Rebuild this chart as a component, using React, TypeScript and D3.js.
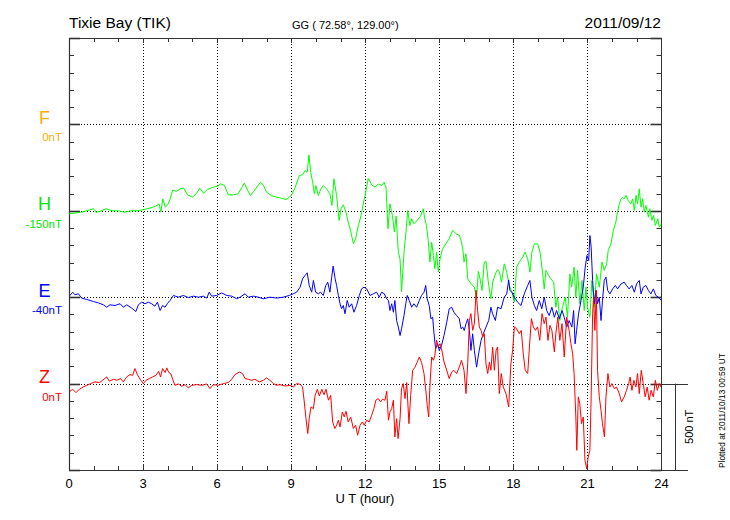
import React from 'react';
import * as d3 from 'd3';

type P = [number, number];

const hourTicks = [0, 3, 6, 9, 12, 15, 18, 21, 24];
const compNames = ['F', 'H', 'E', 'Z'];
const compBase = ['0nT', '-150nT', '-40nT', '0nT'];
const compColors = ['#f5b000', '#00e600', '#0000ff', '#ff0000'];
const lineColors = ['#f5b000', '#00ff00', '#0000ff', '#ff0000'];

const H_DATA: P[] = [[0,-17],[0.25,-13],[0.5,-8],[0.75,2],[1,12],[1.1,-8],[1.25,-4],[1.5,12],[1.75,0],[2,0],[2.25,-8],[2.5,0],[2.75,0],[3,6],[3.25,15],[3.5,25],[3.65,40],[3.72,-8],[3.8,69],[3.9,21],[4.0,35],[4.1,69],[4.2,121],[4.35,112],[4.5,127],[4.65,131],[4.8,92],[5.0,79],[5.15,98],[5.3,131],[5.45,102],[5.6,123],[5.8,135],[6.0,142],[6.15,156],[6.3,146],[6.45,92],[6.65,92],[6.85,98],[7.0,135],[7.1,160],[7.25,115],[7.35,88],[7.5,115],[7.75,165],[7.87,150],[8.0,108],[8.2,88],[8.4,79],[8.6,73],[8.8,65],[9.0,88],[9.15,131],[9.33,204],[9.46,208],[9.56,233],[9.65,223],[9.72,323],[9.79,223],[9.87,165],[9.94,98],[10.0,146],[10.1,88],[10.2,127],[10.3,146],[10.43,127],[10.57,98],[10.65,31],[10.73,185],[10.84,88],[10.94,-56],[11.02,12],[11.11,35],[11.22,-8],[11.31,-65],[11.41,-119],[11.52,-190],[11.61,-162],[11.72,-85],[11.83,-27],[11.92,40],[12.03,117],[12.12,188],[12.26,150],[12.4,137],[12.53,156],[12.66,146],[12.76,165],[12.84,137],[12.92,-104],[13.0,40],[13.1,-27],[13.18,-123],[13.25,-31],[13.34,-240],[13.41,-279],[13.47,-469],[13.57,-240],[13.65,-123],[13.72,2],[13.81,-85],[13.88,-46],[13.97,-75],[14.1,-56],[14.24,-31],[14.35,12],[14.41,-46],[14.48,-85],[14.55,-171],[14.62,-296],[14.69,-181],[14.76,-258],[14.82,-335],[14.89,-240],[14.96,-354],[15.03,-277],[15.13,-219],[15.27,-190],[15.4,-162],[15.54,-113],[15.67,-133],[15.81,-142],[15.9,-181],[15.96,-230],[16.0,-297],[16.08,-249],[16.15,-394],[16.28,-422],[16.42,-442],[16.51,-509],[16.58,-351],[16.65,-394],[16.73,-461],[16.82,-297],[16.89,-293],[17.0,-432],[17.09,-509],[17.16,-413],[17.27,-365],[17.36,-341],[17.43,-351],[17.52,-413],[17.63,-307],[17.73,-355],[17.83,-432],[17.94,-470],[18.04,-528],[18.13,-326],[18.24,-297],[18.38,-268],[18.47,-239],[18.58,-278],[18.67,-355],[18.75,-239],[18.85,-191],[18.98,-191],[19.08,-239],[19.18,-355],[19.25,-452],[19.32,-345],[19.43,-374],[19.52,-394],[19.63,-413],[19.72,-558],[19.79,-500],[19.88,-635],[19.99,-558],[20.1,-500],[20.19,-616],[20.29,-365],[20.36,-442],[20.46,-326],[20.53,-500],[20.6,-345],[20.69,-538],[20.78,-403],[20.87,-577],[20.94,-442],[21.0,-558],[21.1,-616],[21.18,-403],[21.28,-558],[21.37,-365],[21.48,-442],[21.59,-297],[21.68,-345],[21.78,-307],[21.84,-230],[21.95,-191],[22.05,-114],[22.15,-66],[22.22,-8],[22.29,40],[22.36,69],[22.42,79],[22.49,69],[22.56,89],[22.65,60],[22.76,40],[22.83,69],[22.9,2],[22.97,89],[23.03,40],[23.1,127],[23.17,21],[23.24,69],[23.3,-8],[23.37,31],[23.47,-37],[23.53,12],[23.61,-56],[23.68,-27],[23.75,-85],[23.85,-46],[23.91,-95],[24.0,-75]];

const E_DATA: P[] = [[0.04,10],[0.15,29],[0.24,14],[0.38,20],[0.51,-5],[0.72,-13],[0.99,-25],[1.19,-33],[1.39,-44],[1.53,-58],[1.66,-44],[1.86,-48],[2.07,-38],[2.2,-58],[2.34,-44],[2.54,-63],[2.71,-83],[2.81,-44],[2.94,-29],[3.08,-38],[3.21,-29],[3.35,-38],[3.48,-52],[3.58,-29],[3.69,-77],[3.79,-48],[3.89,-58],[3.98,-38],[4.09,-19],[4.23,10],[4.43,0],[4.63,10],[4.83,-2],[5.04,6],[5.24,0],[5.44,6],[5.58,-5],[5.68,29],[5.78,6],[5.98,10],[6.18,25],[6.39,10],[6.59,6],[6.79,-9],[6.93,0],[7.13,20],[7.26,0],[7.47,6],[7.67,0],[7.87,-9],[8.0,-5],[8.14,0],[8.41,-5],[8.68,0],[8.92,10],[9.09,20],[9.22,29],[9.36,58],[9.46,106],[9.56,126],[9.65,141],[9.73,68],[9.83,29],[9.9,97],[9.99,29],[10.1,20],[10.19,29],[10.3,10],[10.4,68],[10.48,87],[10.57,29],[10.64,116],[10.7,180],[10.78,106],[10.84,68],[10.91,10],[10.98,-38],[11.04,-67],[11.11,-48],[11.18,-96],[11.27,-19],[11.35,-58],[11.45,-38],[11.54,-87],[11.65,-48],[11.76,10],[11.85,48],[11.95,58],[12.06,48],[12.19,10],[12.33,20],[12.46,29],[12.57,0],[12.66,29],[12.77,20],[12.87,-10],[12.94,-19],[13.0,-77],[13.07,-38],[13.14,-87],[13.2,-19],[13.27,-135],[13.34,-173],[13.41,-222],[13.47,-183],[13.57,-106],[13.64,-38],[13.7,10],[13.78,-19],[13.88,-58],[13.97,-38],[14.08,-58],[14.19,-19],[14.28,10],[14.38,29],[14.45,68],[14.51,-9],[14.59,-48],[14.66,-125],[14.73,-116],[14.78,-202],[14.85,-299],[14.93,-270],[15.0,-308],[15.09,-279],[15.19,-222],[15.3,-145],[15.4,-67],[15.5,-58],[15.59,-87],[15.7,-106],[15.81,-125],[15.88,-183],[15.95,-173],[16.01,-193],[16.08,-154],[16.15,-125],[16.22,-193],[16.28,-308],[16.35,-212],[16.42,-308],[16.51,-405],[16.59,-328],[16.69,-251],[16.78,-212],[16.89,-173],[17.0,-135],[17.09,-58],[17.16,-96],[17.27,-135],[17.36,-58],[17.5,-67],[17.63,0],[17.73,19],[17.81,100],[17.86,39],[17.94,29],[18.04,0],[18.17,-29],[18.31,-48],[18.44,19],[18.58,68],[18.67,97],[18.75,0],[18.85,-48],[18.94,-77],[19.05,-19],[19.15,-67],[19.25,0],[19.35,-77],[19.45,-106],[19.56,-58],[19.66,-116],[19.75,-77],[19.86,-125],[19.97,-77],[20.06,-116],[20.16,-173],[20.26,-135],[20.37,-173],[20.44,-77],[20.5,-270],[20.56,-193],[20.64,-96],[20.74,-19],[20.83,58],[20.91,174],[20.98,241],[21.05,212],[21.1,357],[21.15,290],[21.21,97],[21.28,-38],[21.35,39],[21.41,-38],[21.48,0],[21.55,-135],[21.61,-19],[21.68,97],[21.75,116],[21.82,39],[21.91,19],[22.02,48],[22.13,68],[22.22,48],[22.36,77],[22.49,87],[22.58,68],[22.69,48],[22.8,68],[22.9,29],[22.99,77],[23.1,97],[23.17,19],[23.26,58],[23.37,68],[23.47,39],[23.57,19],[23.67,48],[23.77,10],[23.88,0],[23.99,-19]];

const Z_DATA: P[] = [[0.04,-44],[0.15,-33],[0.28,-52],[0.42,-33],[0.58,-19],[0.72,-10],[0.88,0],[1.05,10],[1.23,6],[1.36,19],[1.53,39],[1.63,14],[1.8,25],[1.93,19],[2.09,29],[2.2,10],[2.34,39],[2.47,52],[2.58,48],[2.67,87],[2.77,52],[2.88,25],[3.01,0],[3.12,19],[3.25,29],[3.39,39],[3.52,48],[3.63,71],[3.71,39],[3.79,87],[3.89,64],[3.96,91],[4.04,64],[4.12,58],[4.2,25],[4.29,-10],[4.43,-2],[4.56,-15],[4.7,-6],[4.83,-25],[4.97,-10],[5.17,-6],[5.37,-10],[5.58,-2],[5.71,-29],[5.85,-6],[6.05,-10],[6.25,0],[6.45,6],[6.59,25],[6.72,52],[6.9,67],[7.03,58],[7.13,29],[7.26,25],[7.4,19],[7.53,25],[7.71,10],[7.87,19],[8.0,33],[8.14,19],[8.28,0],[8.41,-10],[8.55,-6],[8.75,-14],[8.95,-10],[9.09,-19],[9.22,0],[9.36,-4],[9.46,-19],[9.53,-106],[9.6,-203],[9.67,-289],[9.73,-203],[9.8,-135],[9.9,-145],[9.97,-68],[10.06,-33],[10.14,-72],[10.24,-33],[10.33,-64],[10.41,-33],[10.51,-96],[10.6,-68],[10.68,-222],[10.77,-260],[10.84,-241],[10.91,-212],[10.98,-251],[11.07,-164],[11.15,-193],[11.22,-160],[11.31,-222],[11.41,-193],[11.52,-260],[11.61,-241],[11.69,-299],[11.79,-241],[11.88,-222],[11.96,-241],[12.06,-212],[12.16,-222],[12.26,-183],[12.35,-145],[12.43,-96],[12.53,-87],[12.62,-106],[12.7,-91],[12.8,-96],[12.87,-44],[12.94,-212],[13.0,-164],[13.07,-145],[13.14,-96],[13.2,-309],[13.27,-203],[13.33,-318],[13.41,-203],[13.47,-29],[13.54,0],[13.61,-87],[13.68,6],[13.77,-232],[13.84,-68],[13.92,77],[14.01,94],[14.1,123],[14.19,154],[14.28,123],[14.38,58],[14.46,-48],[14.51,-125],[14.57,-193],[14.62,-10],[14.69,154],[14.76,135],[14.82,164],[14.89,251],[14.96,212],[15.03,231],[15.09,202],[15.19,125],[15.3,77],[15.4,29],[15.5,67],[15.59,77],[15.7,58],[15.81,96],[15.9,135],[16.0,77],[16.08,-58],[16.15,115],[16.22,366],[16.28,405],[16.35,308],[16.42,347],[16.49,540],[16.55,424],[16.62,328],[16.69,308],[16.76,270],[16.82,289],[16.89,115],[16.96,58],[17.03,125],[17.09,77],[17.16,212],[17.23,77],[17.3,193],[17.36,212],[17.43,-58],[17.51,58],[17.59,-20],[17.7,-58],[17.81,-135],[17.9,115],[17.97,193],[18.04,328],[18.13,318],[18.24,289],[18.32,308],[18.4,173],[18.48,77],[18.58,58],[18.65,212],[18.73,376],[18.81,328],[18.89,308],[18.98,328],[19.07,250],[19.16,405],[19.25,347],[19.32,385],[19.4,250],[19.48,337],[19.56,308],[19.66,183],[19.72,289],[19.8,385],[19.88,250],[19.97,347],[20.06,154],[20.16,385],[20.26,308],[20.33,231],[20.4,173],[20.46,58],[20.53,-193],[20.57,-386],[20.63,-77],[20.69,-116],[20.76,-232],[20.83,-193],[20.9,-444],[20.97,-492],[21.03,-425],[21.1,-386],[21.15,-77],[21.21,405],[21.25,501],[21.3,308],[21.36,540],[21.41,77],[21.48,-77],[21.55,-155],[21.61,-232],[21.69,-309],[21.75,-77],[21.83,58],[21.91,-20],[21.99,0],[22.09,-29],[22.18,-20],[22.29,-58],[22.38,-106],[22.49,-77],[22.58,-39],[22.67,0],[22.73,38],[22.8,-39],[22.88,19],[22.96,-20],[23.03,58],[23.1,-58],[23.18,77],[23.26,0],[23.34,-77],[23.42,-20],[23.5,-96],[23.58,-39],[23.67,-77],[23.75,19],[23.83,-39],[23.91,0],[23.99,-20]];

const STEP_NT = 500;
const FONT = '"Liberation Sans", Arial, Helvetica, sans-serif';

export default function App() {
  const x = d3.scaleLinear().domain([0, 24]).range([69, 661.5]);
  const y = d3.scaleLinear().domain([0, 5]).range([38, 470]);
  const X0 = x(0), X1 = x(24), Y0 = y(0), Y1 = y(5);
  const mk = (slot: number) =>
    d3.line<P>().x(d => x(d[0])).y(d => y(slot - d[1] / STEP_NT));

  const series: { data: P[]; slot: number; color: string }[] = [
    { data: H_DATA, slot: 2, color: lineColors[1] },
    { data: E_DATA, slot: 3, color: lineColors[2] },
    { data: Z_DATA, slot: 4, color: lineColors[3] },
  ];

  const axisCol = '#333';
  const hours = d3.range(1, 24);
  const yTicks = d3.range(0, 26).map(k => k / 5);

  return (
    <div style={{ position: 'absolute', left: 0, top: 0 }}>
      <svg width={730} height={520} style={{ display: 'block', background: '#fff' }} fontFamily={FONT}>
        <defs>
          <clipPath id="plotclip">
            <rect x={X0} y={Y0} width={X1 - X0} height={Y1 - Y0} />
          </clipPath>
        </defs>
        {/* vertical grid + x ticks */}
        {hours.map(h => {
          const xx = Math.round(x(h)) + 0.5;
          if (h % 3 === 0) {
            return (
              <g key={'h' + h}>
                <line x1={xx} x2={xx} y1={Y0} y2={Y1} stroke="#000" strokeWidth={1} strokeDasharray="1,2" />
                <line x1={xx} x2={xx} y1={Y1} y2={Y1 - 6} stroke={axisCol} />
                <line x1={xx} x2={xx} y1={Y0} y2={Y0 + 5} stroke={axisCol} />
              </g>
            );
          }
          return (
            <g key={'h' + h}>
              <line x1={xx} x2={xx} y1={Y1} y2={Y1 - 4} stroke={axisCol} />
              <line x1={xx} x2={xx} y1={Y0} y2={Y0 + 4} stroke={axisCol} />
            </g>
          );
        })}
        {/* y ticks and horizontal grid */}
        {yTicks.map((t, k) => {
          const yy = Math.round(y(t)) + 0.5;
          const major = k % 5 === 0;
          const inner = k > 0 && k < 25;
          const len = major ? 11 : 5;
          return (
            <g key={'y' + k}>
              {major && inner && (
                <line x1={X0} x2={X1} y1={yy} y2={yy} stroke="#000" strokeDasharray="1,2" />
              )}
              <line x1={X0} x2={X0 + len} y1={yy} y2={yy} stroke={axisCol} strokeWidth={major ? 1.6 : 1} />
              <line x1={X1 - len} x2={X1} y1={yy} y2={yy} stroke={axisCol} strokeWidth={major ? 1.6 : 1} />
            </g>
          );
        })}
        {/* frame */}
        <line x1={X0} x2={X1} y1={Y0 + 0.5} y2={Y0 + 0.5} stroke={axisCol} />
        <line x1={X0} x2={688} y1={Y1 + 0.5} y2={Y1 + 0.5} stroke={axisCol} />
        <line x1={X0 + 0.5} x2={X0 + 0.5} y1={Y0} y2={Y1} stroke={axisCol} strokeWidth={1.2} />
        <line x1={X1} x2={X1} y1={Y0} y2={Y1} stroke={axisCol} />
        {/* scale bar */}
        <line x1={X1} x2={688} y1={Math.round(y(4)) + 0.5} y2={Math.round(y(4)) + 0.5} stroke={axisCol} />
        <line x1={675.5} x2={675.5} y1={y(4)} y2={Y1} stroke={axisCol} />
        <text transform={`translate(693, ${(y(4) + Y1) / 2}) rotate(-90)`} textAnchor="middle" fontSize={11} fill="#000">500 nT</text>
        <text transform={`translate(725, 468) rotate(-90)`} textAnchor="start" fontSize={8.3} fill="#000">Plotted at 2011/10/13 00:59 UT</text>

        {/* traces */}
        <g clipPath="url(#plotclip)">
          {series.map((s, i) => (
            <path key={'s' + i} d={mk(s.slot)(s.data) || ''} fill="none" stroke={s.color} strokeWidth={1} strokeLinejoin="round" />
          ))}
        </g>

        {/* component labels */}
        {compNames.map((n, i) => {
          const by = y(i + 1);
          return (
            <g key={'c' + n}>
              <text x={44.5} y={by - 0.5} textAnchor="middle" fontSize={18} fill={compColors[i]}>{n}</text>
              <text x={62} y={by + 17} textAnchor="end" fontSize={11.5} fill={compColors[i]}>{compBase[i]}</text>
            </g>
          );
        })}

        {/* x labels */}
        {hourTicks.map(h => (
          <text key={'xl' + h} x={x(h)} y={488} textAnchor="middle" fontSize={13} fill="#000">{h}</text>
        ))}
        <text x={365} y={503} textAnchor="middle" fontSize={13} fill="#000">U T (hour)</text>

        {/* titles */}
        <text x={69} y={28} fontSize={15.5} fill="#000">Tixie Bay (TIK)</text>
        <text x={292} y={29} fontSize={11} fill="#000">GG ( 72.58°, 129.00°)</text>
        <text x={661} y={28} textAnchor="end" fontSize={15.5} fill="#000">2011/09/12</text>
      </svg>
    </div>
  );
}
